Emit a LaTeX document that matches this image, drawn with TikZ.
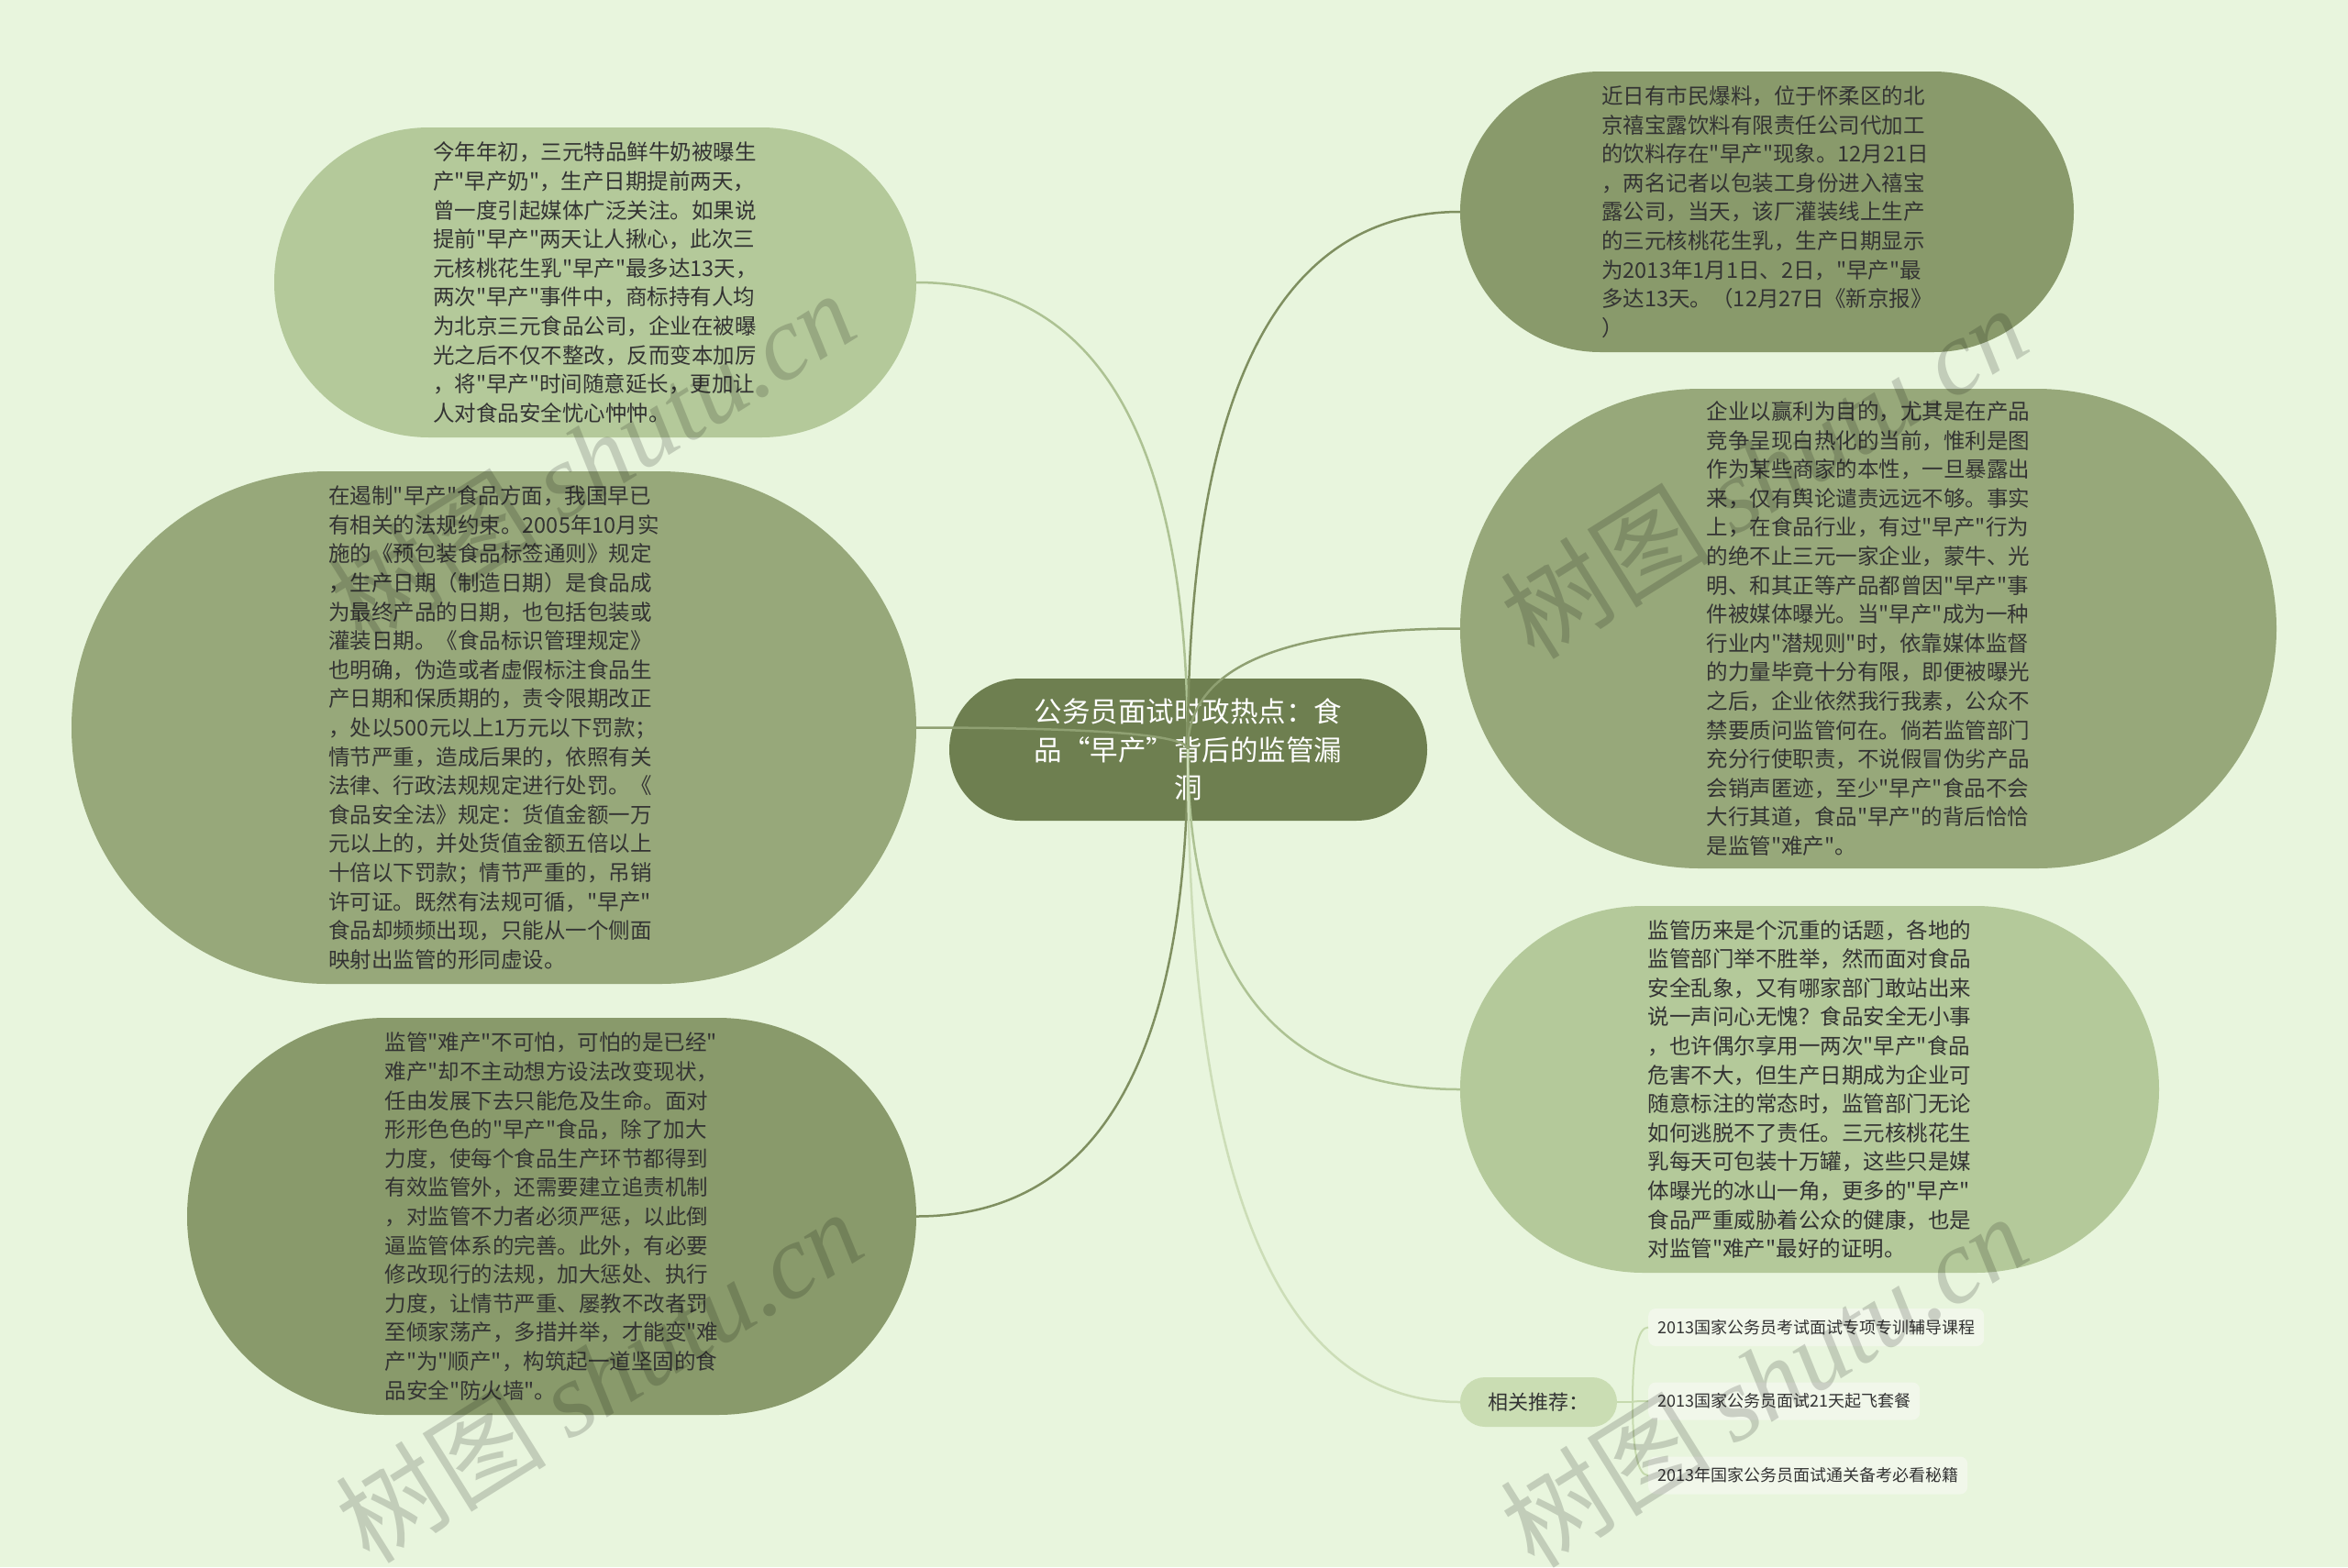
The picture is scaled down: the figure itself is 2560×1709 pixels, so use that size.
\documentclass[tikz,border=0pt]{standalone}
\usepackage{fontspec}
\setmainfont{Noto Sans CJK SC}
\newfontfamily\cjkf{Noto Sans CJK SC}
\newfontfamily\wmlatin{Liberation Serif}
\usetikzlibrary{calc}
\definecolor{bgc}{HTML}{E8F5DD}
\definecolor{rootc}{HTML}{6E7F50}
\definecolor{lightc}{HTML}{B4C99A}
\definecolor{darkc}{HTML}{899A6B}
\definecolor{midc}{HTML}{97A87A}
\definecolor{sevc}{HTML}{CADDB3}
\definecolor{leafc}{HTML}{F1F7EA}
\definecolor{txt}{HTML}{333333}
\definecolor{llight}{HTML}{ADC293}
\definecolor{ldark}{HTML}{7F8F60}
\definecolor{lmid}{HTML}{8FA072}
\definecolor{lsev}{HTML}{CCDDB7}
\definecolor{lleaf}{HTML}{C6DAAE}
\newcommand\qconn[3]{\draw[#1] (#2) .. controls ($(#2)!0.6667!(#2 |- #3)$) and ($(#3)!0.6667!(#2 |- #3)$) .. (#3);}
\tikzset{
  bubble/.style={draw=none, inner sep=0pt, align=left, text=txt, font=\cjkf\fontsize{23.5}{31.6}\selectfont},
  root/.style={fill=rootc, text=white, align=center, inner sep=0pt, font=\cjkf\fontsize{30.5}{41.5}\selectfont},
  leafbox/.style={fill=leafc, rounded corners=8pt, inner xsep=10pt, inner ysep=0pt, minimum height=41pt, anchor=west, text=txt, font=\cjkf\fontsize{18}{21}\selectfont},
  link/.style={line width=2.5pt},
  wmark/.style={text=black, text opacity=0.16, font=\cjkf\fontsize{115}{120}\selectfont, rotate=32, inner sep=0pt},
}
\begin{document}
\begin{tikzpicture}[x=1pt,y=-1pt]
\fill[bgc] (0,0) rectangle (2560,1709);
\useasboundingbox (0,0) rectangle (2560,1709);

% root
\node[root, minimum width=521pt, minimum height=155pt, rounded corners=77.5pt] (root) at (1295.5,817.5)
 {公务员面试时政热点：食\\品“早产”背后的监管漏\\洞};

% main topics
\node[bubble, fill=lightc, minimum width=700pt, minimum height=338pt, rounded corners=169pt] (n1) at (649,308)
 {今年年初，三元特品鲜牛奶被曝生\\产"早产奶"，生产日期提前两天，\\曾一度引起媒体广泛关注。如果说\\提前"早产"两天让人揪心，此次三\\元核桃花生乳"早产"最多达13天，\\两次"早产"事件中，商标持有人均\\为北京三元食品公司，企业在被曝\\光之后不仅不整改，反而变本加厉\\，将"早产"时间随意延长，更加让\\人对食品安全忧心忡忡。};

\node[bubble, fill=darkc, minimum width=669pt, minimum height=306pt, rounded corners=153pt] (n2) at (1926.5,231)
 {近日有市民爆料，位于怀柔区的北\\京禧宝露饮料有限责任公司代加工\\的饮料存在"早产"现象。12月21日\\，两名记者以包装工身份进入禧宝\\露公司，当天，该厂灌装线上生产\\的三元核桃花生乳，生产日期显示\\为2013年1月1日、2日，"早产"最\\多达13天。（12月27日《新京报》\\）};

\node[bubble, fill=midc, minimum width=921pt, minimum height=559pt, rounded corners=279.5pt] (n3) at (538.5,793.5)
 {在遏制"早产"食品方面，我国早已\\有相关的法规约束。2005年10月实\\施的《预包装食品标签通则》规定\\，生产日期（制造日期）是食品成\\为最终产品的日期，也包括包装或\\灌装日期。《食品标识管理规定》\\也明确，伪造或者虚假标注食品生\\产日期和保质期的，责令限期改正\\，处以500元以上1万元以下罚款；\\情节严重，造成后果的，依照有关\\法律、行政法规规定进行处罚。《\\食品安全法》规定：货值金额一万\\元以上的，并处货值金额五倍以上\\十倍以下罚款；情节严重的，吊销\\许可证。既然有法规可循，"早产"\\食品却频频出现，只能从一个侧面\\映射出监管的形同虚设。};

\node[bubble, fill=midc, minimum width=890pt, minimum height=523pt, rounded corners=261.5pt] (n4) at (2037,685.5)
 {企业以赢利为目的，尤其是在产品\\竞争呈现白热化的当前，惟利是图\\作为某些商家的本性，一旦暴露出\\来，仅有舆论谴责远远不够。事实\\上，在食品行业，有过"早产"行为\\的绝不止三元一家企业，蒙牛、光\\明、和其正等产品都曾因"早产"事\\件被媒体曝光。当"早产"成为一种\\行业内"潜规则"时，依靠媒体监督\\的力量毕竟十分有限，即便被曝光\\之后，企业依然我行我素，公众不\\禁要质问监管何在。倘若监管部门\\充分行使职责，不说假冒伪劣产品\\会销声匿迹，至少"早产"食品不会\\大行其道，食品"早产"的背后恰恰\\是监管"难产"。};

\node[bubble, fill=darkc, minimum width=795pt, minimum height=433pt, rounded corners=216.5pt] (n5) at (601.5,1326.5)
 {监管"难产"不可怕，可怕的是已经"\\难产"却不主动想方设法改变现状，\\任由发展下去只能危及生命。面对\\形形色色的"早产"食品，除了加大\\力度，使每个食品生产环节都得到\\有效监管外，还需要建立追责机制\\，对监管不力者必须严惩，以此倒\\逼监管体系的完善。此外，有必要\\修改现行的法规，加大惩处、执行\\力度，让情节严重、屡教不改者罚\\至倾家荡产，多措并举，才能变"难\\产"为"顺产"，构筑起一道坚固的食\\品安全"防火墙"。};

\node[bubble, fill=lightc, minimum width=762pt, minimum height=400pt, rounded corners=200pt] (n6) at (1973,1188)
 {监管历来是个沉重的话题，各地的\\监管部门举不胜举，然而面对食品\\安全乱象，又有哪家部门敢站出来\\说一声问心无愧？食品安全无小事\\，也许偶尔享用一两次"早产"食品\\危害不大，但生产日期成为企业可\\随意标注的常态时，监管部门无论\\如何逃脱不了责任。三元核桃花生\\乳每天可包装十万罐，这些只是媒\\体曝光的冰山一角，更多的"早产"\\食品严重威胁着公众的健康，也是\\对监管"难产"最好的证明。};

\node[bubble, align=center, fill=sevc, minimum width=171pt, minimum height=54pt, rounded corners=27pt, font=\cjkf\fontsize{22}{26}\selectfont] (n7) at (1677.5,1529) {相关推荐：};

% leaves
\node[leafbox] (l1) at (1797,1447.5) {2013国家公务员考试面试专项专训辅导课程};
\node[leafbox] (l2) at (1797,1528) {2013国家公务员面试21天起飞套餐};
\node[leafbox] (l3) at (1797,1609) {2013年国家公务员面试通关备考必看秘籍};

% connectors
\coordinate (c) at (1295,817);
\qconn{link,draw=llight}{c}{n1.east}
\qconn{link,draw=ldark}{c}{n2.west}
\qconn{link,draw=lmid}{c}{n3.east}
\qconn{link,draw=lmid}{c}{n4.west}
\qconn{link,draw=ldark}{c}{n5.east}
\qconn{link,draw=llight}{c}{n6.west}
\qconn{link,draw=lsev}{c}{n7.west}

\coordinate (j) at (1780,1529);
\draw[line width=2pt, draw=lleaf] (n7.east) -- (j);
\qconn{line width=2pt,draw=lleaf}{j}{l1.west}
\qconn{line width=2pt,draw=lleaf}{j}{l2.west}
\qconn{line width=2pt,draw=lleaf}{j}{l3.west}

% watermarks
\node[wmark] (w1) at (645,498) {树图 {\wmlatin\itshape shutu.cn}};
\node[wmark] (w2) at (1923,514) {树图 {\wmlatin\itshape shutu.cn}};
\node[wmark] (w3) at (653,1500) {树图 {\wmlatin\itshape shutu.cn}};
\node[wmark] (w4) at (1923,1505) {树图 {\wmlatin\itshape shutu.cn}};
\end{tikzpicture}
\end{document}
